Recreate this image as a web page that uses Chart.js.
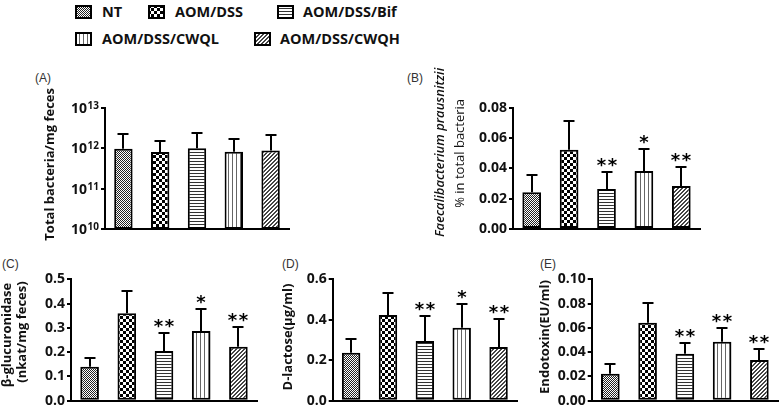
<!DOCTYPE html>
<html><head><meta charset="utf-8">
<script src="https://cdn.jsdelivr.net/npm/chart.js@4/dist/chart.umd.min.js"></script>
<style>
html,body{margin:0;padding:0;background:#fff;}
body{width:781px;height:409px;position:relative;overflow:hidden;font-family:"Open Sans",sans-serif;}
canvas.cv{position:absolute;}
.lbl{position:absolute;font:12px "Liberation Sans",Arial,sans-serif;color:#333;line-height:12px;}
.leg{position:absolute;font:bold 14.5px "Open Sans",sans-serif;color:#111;line-height:15px;white-space:nowrap;}
canvas.sw{position:absolute;}
</style></head><body>
<div class="lbl" style="left:35px;top:72px">(A)</div>
<div class="lbl" style="left:407px;top:72px">(B)</div>
<div class="lbl" style="left:2px;top:258px">(C)</div>
<div class="lbl" style="left:282px;top:258px">(D)</div>
<div class="lbl" style="left:540px;top:258px">(E)</div>
<canvas id="cA" class="cv" width="300" height="165" style="left:0px;top:80px"></canvas>
<canvas id="cB" class="cv" width="290" height="190" style="left:420px;top:55px"></canvas>
<canvas id="cC" class="cv" width="262" height="151" style="left:0px;top:262px"></canvas>
<canvas id="cD" class="cv" width="257" height="151" style="left:265px;top:262px"></canvas>
<canvas id="cE" class="cv" width="256" height="151" style="left:525px;top:262px"></canvas>
<script>
// ---------- data ----------
const groups = ['NT', 'AOM/DSS', 'AOM/DSS/Bif', 'AOM/DSS/CWQL', 'AOM/DSS/CWQH'];

const valuesA = [0.96e12, 0.80e12, 1.00e12, 0.81e12, 0.88e12];
const errorsA = [1.30e12, 0.66e12, 1.35e12, 0.89e12, 1.18e12];
const ticksA = [1e10, 1e11, 1e12, 1e13];
const tickExpA = ['10', '11', '12', '13'];

const valuesB = [0.0243, 0.0523, 0.0264, 0.0382, 0.0284];
const errorsB = [0.0112, 0.0189, 0.0110, 0.0145, 0.0127];
const sigB = ['', '', '**', '*', '**'];
const ticksB = [0, 0.02, 0.04, 0.06, 0.08];
const tickLabelsB = ['0.00', '0.02', '0.04', '0.06', '0.08'];

const valuesC = [0.140, 0.360, 0.205, 0.287, 0.222];
const errorsC = [0.034, 0.093, 0.075, 0.091, 0.080];
const sigC = ['', '', '**', '*', '**'];
const ticksC = [0, 0.1, 0.2, 0.3, 0.4, 0.5];
const tickLabelsC = ['0.0', '0.1', '0.2', '0.3', '0.4', '0.5'];

const valuesD = [0.237, 0.424, 0.295, 0.361, 0.265];
const errorsD = [0.070, 0.107, 0.122, 0.119, 0.137];
const sigD = ['', '', '**', '*', '**'];
const ticksD = [0, 0.2, 0.4, 0.6];
const tickLabelsD = ['0.0', '0.2', '0.4', '0.6'];

const valuesE = [0.0223, 0.0643, 0.0387, 0.0486, 0.0335];
const errorsE = [0.0077, 0.0165, 0.0086, 0.0116, 0.0088];
const sigE = ['', '', '**', '**', '**'];
const ticksE = [0, 0.02, 0.04, 0.06, 0.08, 0.10];
const tickLabelsE = ['0.00', '0.02', '0.04', '0.06', '0.08', '0.10'];

// ---------- patterns ----------
function tile(w, h, draw) {
  const c = document.createElement('canvas'); c.width = w; c.height = h;
  const x = c.getContext('2d'); x.fillStyle = '#fff'; x.fillRect(0, 0, w, h); draw(x); return c;
}
const pctx = document.createElement('canvas').getContext('2d');
const patterns = [
  pctx.createPattern(tile(2, 2, x => { x.fillStyle = '#222'; x.fillRect(0, 0, 1, 1); x.fillRect(1, 1, 1, 1); }), 'repeat'),
  pctx.createPattern(tile(6, 6, x => { x.fillStyle = '#000'; x.fillRect(0, 0, 3, 3); x.fillRect(3, 3, 3, 3); }), 'repeat'),
  pctx.createPattern(tile(3, 3, x => { x.fillStyle = '#333'; x.fillRect(0, 0, 3, 1); }), 'repeat'),
  pctx.createPattern(tile(4, 4, x => { x.fillStyle = '#666'; x.fillRect(0, 0, 1, 4); }), 'repeat'),
  pctx.createPattern(tile(4, 4, x => { x.fillStyle = '#444';
    [[2,0],[3,0],[1,1],[2,1],[0,2],[1,2],[3,3],[0,3]].forEach(p => x.fillRect(p[0], p[1], 1, 1)); }), 'repeat')
];

// ---------- legend ----------
const legendPos = [[75, 5, 102], [148, 5, 175], [277, 5, 303], [75, 32, 102], [254, 32, 280]];
groups.forEach((g, i) => {
  const [sx, sy, tx] = legendPos[i];
  const c = document.createElement('canvas'); c.className = 'sw'; c.width = 17; c.height = 14;
  c.style.left = sx + 'px'; c.style.top = sy + 'px';
  const x = c.getContext('2d'); x.fillStyle = patterns[i]; x.fillRect(0, 0, 17, 14);
  x.strokeStyle = '#000'; x.lineWidth = 2; x.strokeRect(1, 1, 15, 12);
  document.body.appendChild(c);
  const t = document.createElement('div'); t.className = 'leg'; t.textContent = g;
  t.style.left = tx + 'px'; t.style.top = (sy - 1.5) + 'px';
  document.body.appendChild(t);
});

// ---------- plugin: error bars, stars, titles, log tick labels ----------
const panelPlugin = {
  id: 'panel',
  afterDatasetsDraw(chart, args, opts) {
    const ctx = chart.ctx, ys = chart.scales.y, meta = chart.getDatasetMeta(0);
    const data = chart.data.datasets[0].data;
    ctx.save();
    ctx.strokeStyle = '#000'; ctx.lineWidth = 2;
    meta.data.forEach((el, i) => {
      const x = Math.round(el.x);
      const top = Math.round(ys.getPixelForValue(data[i] + opts.errors[i]));
      ctx.beginPath(); ctx.moveTo(x, el.y); ctx.lineTo(x, top); ctx.stroke();
      ctx.beginPath(); ctx.moveTo(x - 5.5, top); ctx.lineTo(x + 5.5, top); ctx.stroke();
      const s = opts.sig ? opts.sig[i] : '';
      if (s) {
        ctx.font = 'bold 18px "DejaVu Sans"'; ctx.fillStyle = '#000'; ctx.textAlign = 'center'; ctx.textBaseline = 'alphabetic';
        const m = ctx.measureText('*');
        const cy = top - 10;
        const base = cy + (m.actualBoundingBoxAscent - m.actualBoundingBoxDescent) / 2;
        const n = s.length;
        for (let k = 0; k < n; k++) ctx.fillText('*', x + (k - (n - 1) / 2) * 11, base);
      }
    });
    ctx.restore();
  },
  afterDraw(chart, args, opts) {
    const ctx = chart.ctx, ca = chart.chartArea, ys = chart.scales.y;
    ctx.save();
    ctx.fillStyle = '#111';
    (opts.titles || []).forEach(t => {
      ctx.save();
      ctx.translate(ca.left - t.off, (ca.top + ca.bottom) / 2 + t.dy);
      ctx.rotate(-Math.PI / 2);
      ctx.font = t.font; ctx.textAlign = 'center'; ctx.textBaseline = 'alphabetic';
      ctx.fillText(t.text, 0, 0);
      ctx.restore();
    });
    if (opts.logTicks) {
      ctx.textAlign = 'right'; ctx.textBaseline = 'alphabetic';
      opts.logTicks.forEach((v, i) => {
        const y = ys.getPixelForValue(v);
        const exp = opts.logExp[i];
        ctx.font = 'bold 10px "Open Sans"'; const sw = ctx.measureText(exp).width;
        const right = ca.left - 6;
        ctx.fillText(exp, right, y + 1.2);
        ctx.font = 'bold 14px "Open Sans"';
        ctx.fillText('10', right - sw - 0.5, y + 5.2);
      });
    }
    ctx.restore();
  }
};

function makeChart(id, cfg) {
  const yScale = {
    type: cfg.log ? 'logarithmic' : 'linear',
    min: cfg.ticks[0], max: cfg.ticks[cfg.ticks.length - 1],
    afterBuildTicks: s => { s.ticks = cfg.ticks.map(v => ({ value: v })); },
    afterFit: s => { s.width = cfg.yWidth; },
    grid: { drawOnChartArea: false, drawTicks: true, tickLength: 4, color: '#000', lineWidth: 2 },
    border: { display: true, color: '#000', width: 2 },
    ticks: cfg.log ? { display: false } : {
      display: true, padding: 2, color: '#111',
      font: { family: 'Open Sans', weight: 'bold', size: 14 },
      callback: (v, i) => cfg.labels[i]
    }
  };
  return new Chart(document.getElementById(id), {
    type: 'bar',
    data: {
      labels: groups,
      datasets: [{ data: cfg.values, backgroundColor: patterns, borderColor: '#000', borderWidth: 2, borderSkipped: false,
        barPercentage: 0.5, categoryPercentage: 1.0 }]
    },
    options: {
      responsive: false, animation: false, devicePixelRatio: 1,
      layout: { padding: cfg.pad },
      plugins: {
        legend: { display: false }, tooltip: { enabled: false },
        panel: { errors: cfg.errors, sig: cfg.sig, titles: cfg.titles, logTicks: cfg.log ? cfg.ticks : null, logExp: cfg.exp }
      },
      scales: {
        x: { type: 'category', offset: true, grid: { display: false }, ticks: { display: false },
             border: { display: true, color: '#000', width: 2 }, afterFit: s => { s.height = 0; } },
        y: yScale
      }
    },
    plugins: [panelPlugin]
  });
}

const B13 = 'bold 13px "Open Sans"';
makeChart('cA', { log: true, values: valuesA, errors: errorsA, ticks: ticksA, exp: tickExpA, yWidth: 105,
  pad: { top: 27.7, bottom: 16, left: 0, right: 11 },
  titles: [{ text: 'Total bacteria/mg feces', font: B13, off: 51, dy: -4 }] });
makeChart('cB', { values: valuesB, errors: errorsB, sig: sigB, ticks: ticksB, labels: tickLabelsB, yWidth: 93,
  pad: { top: 52.7, bottom: 16, left: 0, right: 10 },
  titles: [{ text: 'Faecalibacterium prausnitzii', font: 'italic 600 13px "Open Sans"', off: 69, dy: -16 },
           { text: '% in total bacteria', font: '13px "Open Sans"', off: 49, dy: -15 }] });
makeChart('cC', { values: valuesC, errors: errorsC, sig: sigC, ticks: ticksC, labels: tickLabelsC, yWidth: 71,
  pad: { top: 17.3, bottom: 12.3, left: 0, right: 5 },
  titles: [{ text: 'β-glucuronidase', font: B13, off: 60, dy: -5 },
           { text: '(nkat/mg feces)', font: B13, off: 45, dy: -8 }] });
makeChart('cD', { values: valuesD, errors: errorsD, sig: sigD, ticks: ticksD, labels: tickLabelsD, yWidth: 67.7,
  pad: { top: 17.3, bottom: 12.3, left: 0, right: 5 },
  titles: [{ text: 'D-lactose(μg/ml)', font: B13, off: 41, dy: -3 }] });
makeChart('cE', { values: valuesE, errors: errorsE, sig: sigE, ticks: ticksE, labels: tickLabelsE, yWidth: 66.7,
  pad: { top: 17.3, bottom: 12.3, left: 0, right: 3 },
  titles: [{ text: 'Endotoxin(EU/ml)', font: B13, off: 43, dy: -3 }] });
</script>
</body></html>
